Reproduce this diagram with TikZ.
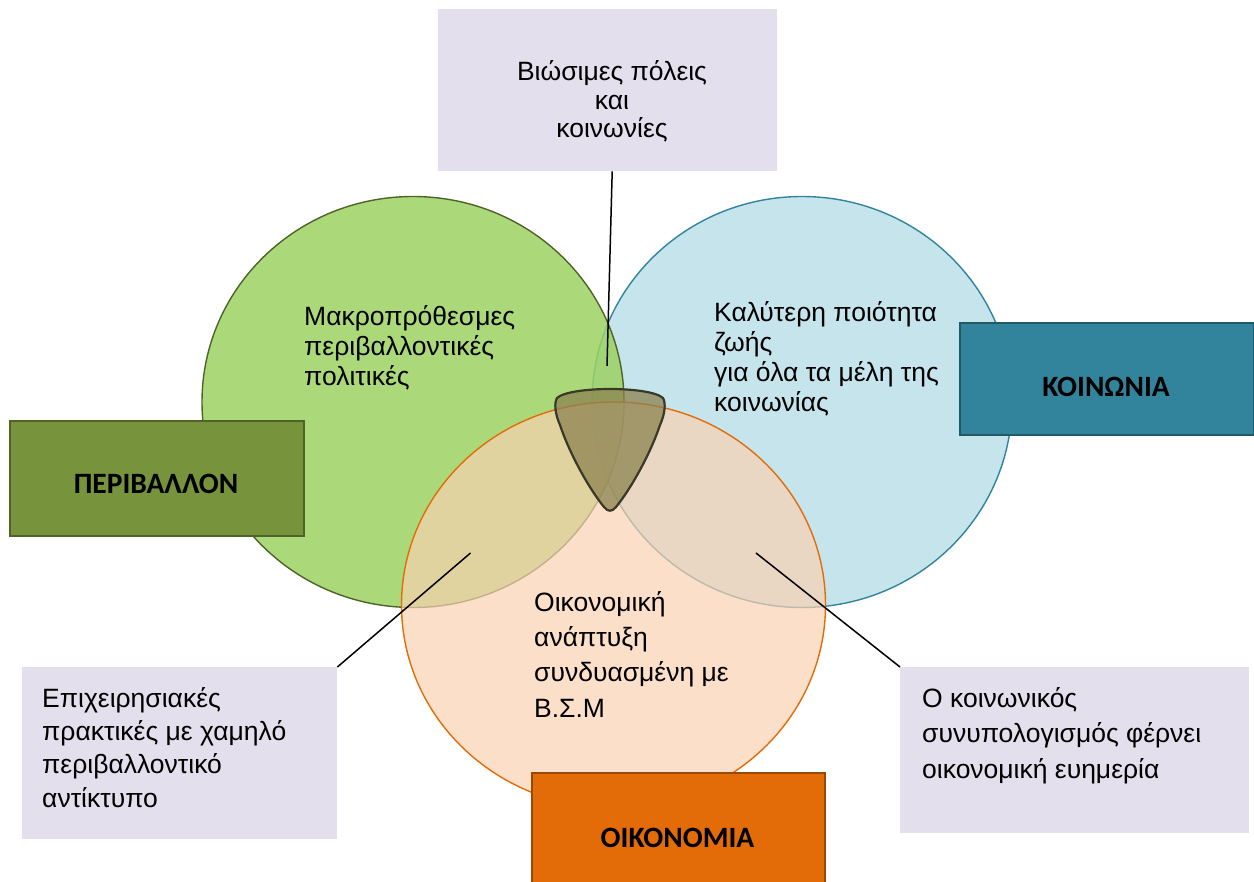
\documentclass[tikz,border=0pt]{standalone}
\usepackage{fontspec}
\setmainfont{Liberation Sans}
\newfontfamily\lblfont{Carlito}
\definecolor{grnfill}{RGB}{156,210,99}
\definecolor{grnline}{RGB}{79,98,40}
\definecolor{blufill}{RGB}{198,228,236}
\definecolor{bluline}{RGB}{49,132,155}
\definecolor{orgfill}{RGB}{249,209,178}
\definecolor{orgline}{RGB}{227,108,9}
\definecolor{lav}{RGB}{228,223,236}
\definecolor{lblgreen}{RGB}{119,147,60}
\definecolor{lblgreenline}{RGB}{79,98,40}
\definecolor{lblblue}{RGB}{49,132,155}
\definecolor{lblblueline}{RGB}{33,89,104}
\definecolor{lblorange}{RGB}{227,108,9}
\definecolor{lblorangeline}{RGB}{152,72,7}
\definecolor{shieldfill}{RGB}{140,130,80}
\definecolor{shieldline}{RGB}{58,56,38}
\begin{document}
\begin{tikzpicture}[x=1pt,y=-1pt,
  bodytext/.style={font=\fontsize{26.5}{30}\selectfont, align=left, inner sep=0pt, anchor=base west},
  lavbox/.style={fill=lav, draw=none, anchor=north west, inner sep=0pt},
  lblbox/.style={draw, line width=1.8pt, anchor=north west, inner sep=0pt},
  lbltext/.style={font=\lblfont\bfseries\fontsize{29.5}{33}\selectfont, inner sep=0pt, anchor=base},
  connector/.style={draw=black, line width=1.5pt}
]
\useasboundingbox (0,0) rectangle (1254,882);

% circles
\draw[draw=bluline, line width=1.4pt, fill=blufill] (802,402) ellipse [x radius=210pt, y radius=205.5pt];
\draw[draw=grnline, line width=1.4pt, fill=grnfill, fill opacity=0.85] (413,402) ellipse [x radius=211pt, y radius=205.5pt];
\draw[draw=orgline, line width=1.4pt, fill=orgfill, fill opacity=0.7] (613.5,605) ellipse [x radius=212pt, y radius=203pt];

% central shield
\draw[draw=shieldline, line width=2.2pt, fill=shieldfill, fill opacity=0.75]
  (557,398) .. controls (570,386) and (650,386) .. (663,398)
  .. controls (666,403) and (665,414) .. (660,425)
  .. controls (650,455) and (630,490) .. (616,507)
  .. controls (612,512) and (608,512) .. (604,507)
  .. controls (590,490) and (570,455) .. (560,425)
  .. controls (555,414) and (554,403) .. (557,398) -- cycle;

% lavender boxes
\node[lavbox, minimum width=339pt, minimum height=162pt] (city) at (438,9) {};
\node[lavbox, minimum width=315pt, minimum height=172pt] (lbox) at (22,667) {};
\node[lavbox, minimum width=349pt, minimum height=166pt] (rbox) at (900,667) {};

% connector end points
\coordinate (cityend) at (607,366);
\coordinate (lend) at (470.5,553);
\coordinate (rend) at (756,553);

\draw[connector] ([xshift=4.5pt]city.south) -- (cityend);
\draw[connector] (lbox.north east) -- (lend);
\draw[connector] (rbox.north west) -- (rend);

% label boxes
\node[lblbox, draw=lblgreenline, fill=lblgreen, minimum width=294pt, minimum height=115pt] (env) at (9,420) {};
\node[lblbox, draw=lblblueline, fill=lblblue, minimum width=294pt, minimum height=112pt] (soc) at (959,322) {};
\node[lblbox, draw=lblorangeline, fill=lblorange, minimum width=293pt, minimum height=130pt] (eco) at (531,772) {};

\node[lbltext] (envt) at (156,494) {ΠΕΡΙΒΑΛΛΟΝ};
\node[lbltext] (soct) at (1106,397) {ΚΟΙΝΩΝΙΑ};
\node[lbltext] (ecot) at (677.5,847) {ΟΙΚΟΝΟΜΙΑ};

% texts (base anchor = baseline of the last line)
\node[bodytext] (envtx) at (304,386) {Μακροπρόθεσμες\\περιβαλλοντικές\\πολιτικές};
\node[bodytext] (soctx) at (714,412) {Καλύτερη ποιότητα\\ζωής\\για όλα τα μέλη της\\κοινωνίας};
\node[bodytext, font=\fontsize{26.5}{35.3}\selectfont] (ecotx) at (534,717) {Οικονομική\\ανάπτυξη\\συνδυασμένη με\\Β.Σ.Μ};
\node[bodytext, align=center, anchor=base, font=\fontsize{26.5}{28.5}\selectfont] (cityt) at (612,138) {Βιώσιμες πόλεις\\και\\κοινωνίες};
\node[bodytext, font=\fontsize{26.5}{33.3}\selectfont] (ltx) at (42,807) {Επιχειρησιακές\\πρακτικές με χαμηλό\\περιβαλλοντικό\\αντίκτυπο};
\node[bodytext, font=\fontsize{26.5}{35.5}\selectfont] (rtx) at (922,778) {Ο κοινωνικός\\συνυπολογισμός φέρνει\\οικονομική ευημερία};
\end{tikzpicture}
\end{document}
